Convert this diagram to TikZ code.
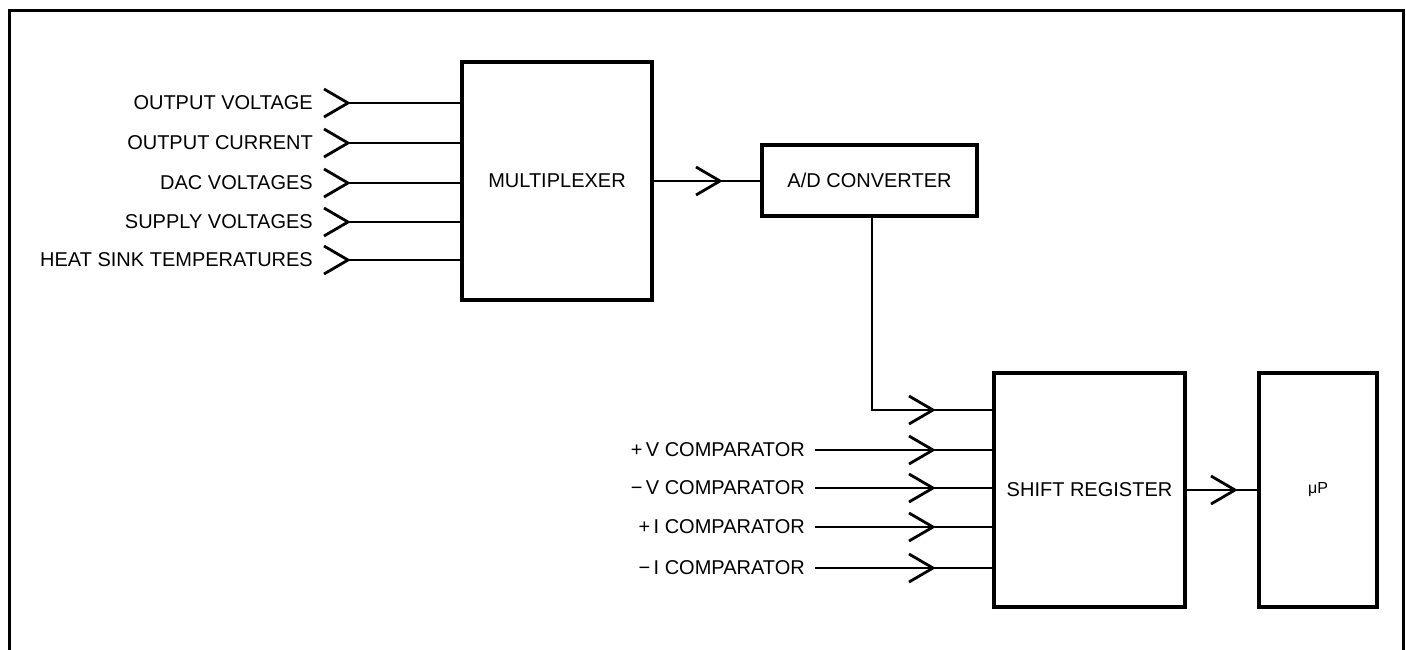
\documentclass[tikz,border=0pt]{standalone}
\usepackage{fontspec}
\setmainfont{Liberation Sans}
\usetikzlibrary{calc}
\begin{document}
\begin{tikzpicture}[x=1pt,y=-1pt,
  blk/.style={draw,line width=3.2pt,rectangle,inner sep=0pt,font=\fontsize{20}{24}\selectfont},
  lbl/.style={anchor=east,inner sep=0pt,font=\fontsize{20}{24}\selectfont},
  wire/.style={line width=2.8pt},
  chev/.pic={\draw[line width=2.8pt,line join=miter] (-24,-14) -- (0,0) -- (-24,14);}
]
\useasboundingbox (0,0) rectangle (1406,649);
% frame
\draw[line width=3pt] (9,652) -- (9,10) -- (1403,10) -- (1403,652);
% blocks
\node[blk,minimum width=190pt,minimum height=238pt] (mux) at (557,181) {MULTIPLEXER};
\node[blk,minimum width=215pt,minimum height=71pt] (ad) at (869.5,180.5) {A/D CONVERTER};
\node[blk,minimum width=191pt,minimum height=234pt] (sr) at (1089.5,490) {SHIFT REGISTER};
\node[blk,minimum width=118pt,minimum height=234pt] (up) at (1318,490) {\fontsize{16}{19}\selectfont μP};
% multiplexer inputs
\foreach \i/\y/\t in {1/103/OUTPUT VOLTAGE,2/143/OUTPUT CURRENT,3/183/DAC VOLTAGES,4/222/SUPPLY VOLTAGES,5/260/HEAT SINK TEMPERATURES}{
  \node[lbl] (in\i) at (313,\y) {\t};
  \coordinate (ti\i) at (348,\y);
  \draw[wire] (ti\i) -- (mux.west |- ti\i);
  \pic at (ti\i) {chev};
}
% mux -> A/D
\coordinate (tm) at (720,181);
\draw[wire] (mux.east) -- (ad.west |- mux.east);
\pic at (tm) {chev};
% A/D -> shift register
\coordinate (ta) at (933,410);
\coordinate (ca) at (872,410);
\draw[wire] (ad.south -| ca) -- (ca) -- (sr.west |- ca);
\pic at (ta) {chev};
% comparators
\foreach \i/\y/\t in {1/450/+\,V COMPARATOR,2/488/−\,V COMPARATOR,3/527/+\,I COMPARATOR,4/568/−\,I COMPARATOR}{
  \node[lbl] (cp\i) at (805,\y) {\t};
  \coordinate (tc\i) at (933,\y);
  \draw[wire] ([xshift=10pt]cp\i.east) -- (sr.west |- tc\i);
  \pic at (tc\i) {chev};
}
% shift register -> uP
\coordinate (ts) at (1235,490);
\draw[wire] (sr.east) -- (up.west);
\pic at (ts) {chev};
\end{tikzpicture}
\end{document}
